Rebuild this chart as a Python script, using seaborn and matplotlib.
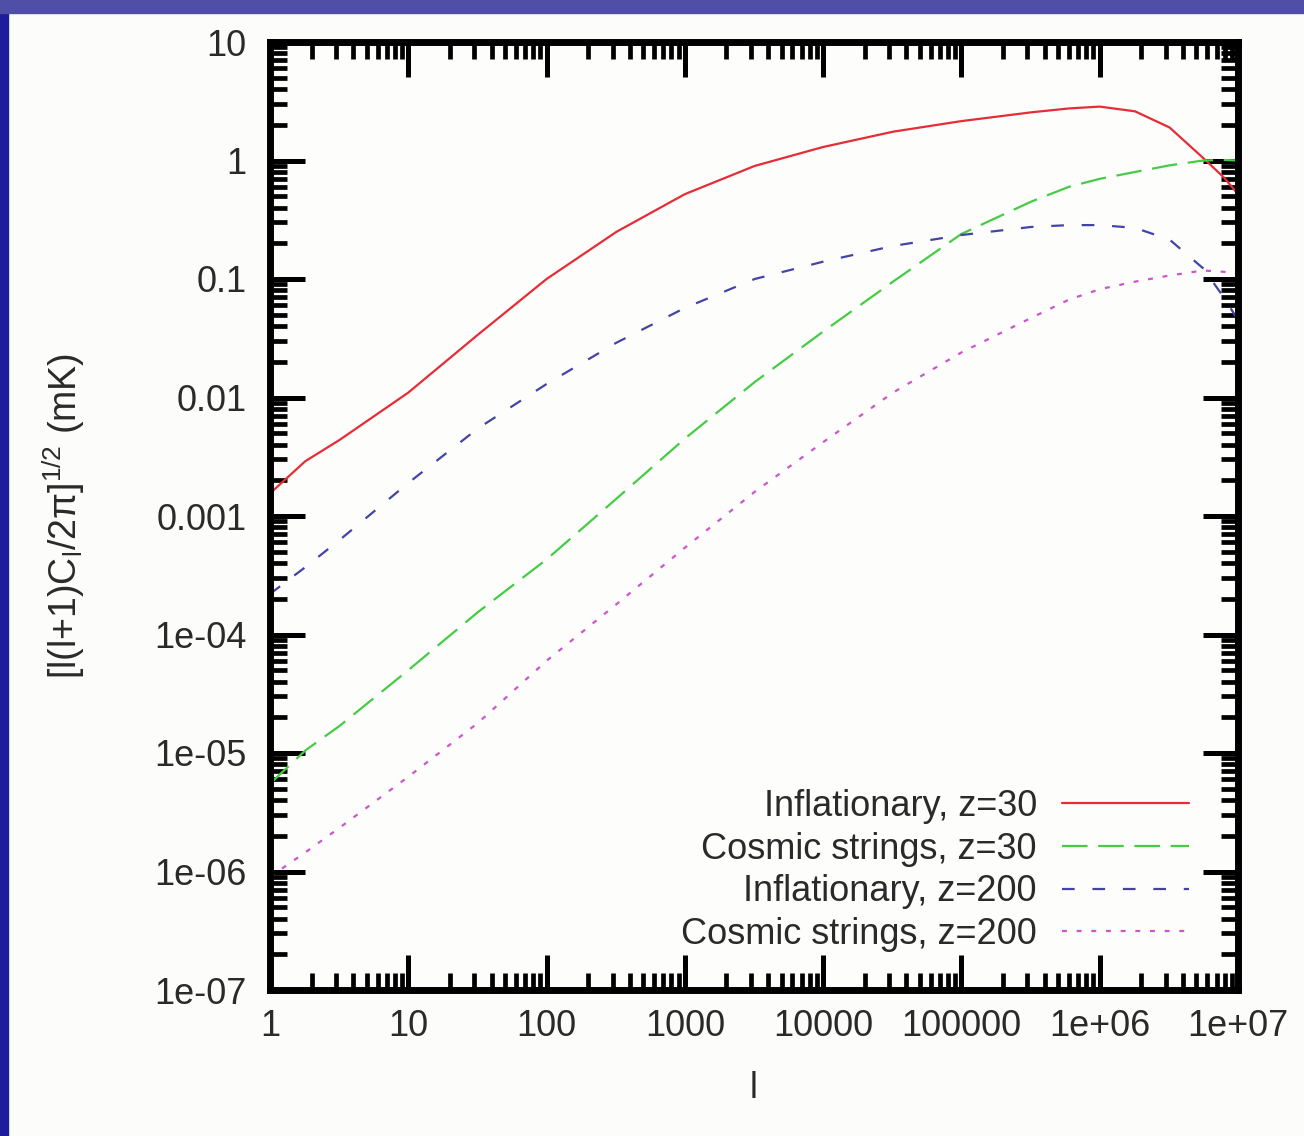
import numpy as np
import pandas as pd
import matplotlib
matplotlib.use("Agg")
import matplotlib.pyplot as plt
from matplotlib.patches import Rectangle
from matplotlib.ticker import LogLocator, NullFormatter
import seaborn as sns

# multipole l (shared grid for all four curves)
ell = [1, 1.8, 3.2, 10, 32, 100, 320, 1000, 3200, 1e4, 3.2e4, 1e5, 3.2e5,
       6e5, 1e6, 1.8e6, 3.2e6, 5.6e6, 7.9e6, 1e7]

# [l(l+1)C_l/2pi]^(1/2) in mK
infl_z30 = [1.55e-3, 2.9e-3, 4.4e-3, 0.011, 0.034, 0.10, 0.25, 0.52, 0.90, 1.3,
            1.75, 2.15, 2.55, 2.75, 2.85, 2.6, 1.9, 1.05, 0.72, 0.52]
strings_z30 = [5.5e-6, 1.05e-5, 1.7e-5, 5e-5, 1.55e-4, 4.3e-4, 1.4e-3, 4.5e-3,
               0.0135, 0.036, 0.095, 0.24, 0.45, 0.60, 0.70, 0.80, 0.91, 1.0, 1.01, 1.0]
infl_z200 = [2.2e-4, 3.7e-4, 6.3e-4, 1.9e-3, 5.5e-3, 0.013, 0.029, 0.057, 0.10,
             0.14, 0.19, 0.235, 0.275, 0.285, 0.285, 0.27, 0.215, 0.123, 0.07, 0.045]
strings_z200 = [9e-7, 1.45e-6, 2.35e-6, 6.3e-6, 1.8e-5, 6e-5, 1.8e-4, 5.4e-4,
                1.6e-3, 4.2e-3, 0.011, 0.024, 0.047, 0.067, 0.082, 0.095, 0.107,
                0.118, 0.115, 0.11]

labels = ["Inflationary, z=30", "Cosmic strings, z=30",
          "Inflationary, z=200", "Cosmic strings, z=200"]

xticks = [1, 10, 100, 1000, 1e4, 1e5, 1e6, 1e7]
xticklabels = ["1", "10", "100", "1000", "10000", "100000", "1e+06", "1e+07"]
yticks = [1e-7, 1e-6, 1e-5, 1e-4, 1e-3, 1e-2, 1e-1, 1, 10]
yticklabels = ["1e-07", "1e-06", "1e-05", "1e-04", "0.001", "0.01", "0.1", "1", "10"]

sns.set_style("white")
plt.rcParams["font.family"] = ["Liberation Sans", "DejaVu Sans"]
plt.rcParams["mathtext.fontset"] = "custom"
plt.rcParams["mathtext.rm"] = "Liberation Sans"
plt.rcParams["mathtext.it"] = "Liberation Sans"

fig = plt.figure(figsize=(13.04, 11.36), dpi=100)
fig.patch.set_facecolor("#fcfcfa")

# slide frame (blue strips at left and top)
fig.patches.append(Rectangle((0, 0), 8 / 1304, 1, transform=fig.transFigure,
                             color="#1c1c9c", zorder=0))
fig.patches.append(Rectangle((0, 1 - 13 / 1136), 1, 13 / 1136, transform=fig.transFigure,
                             color="#4f4fa8", zorder=0))

ax = fig.add_axes([270 / 1304, 146 / 1136, 968 / 1304, 948 / 1136])
ax.set_facecolor("#fdfdfb")

df = pd.DataFrame({"l": ell, "a": infl_z30, "b": strings_z30,
                   "c": infl_z200, "d": strings_z200})

styles = [
    ("a", "#e62c36", "-"),
    ("b", "#44cc44", (0, (11.5, 4.8))),
    ("c", "#4444a8", (0, (5.7, 8.0))),
    ("d", "#cc55cc", (0, (2.2, 4.4))),
]
for (col, color, ls), lab in zip(styles, labels):
    sns.lineplot(data=df, x="l", y=col, ax=ax, color=color, linestyle=ls,
                 linewidth=1.6, label=lab)

ax.set_xscale("log")
ax.set_yscale("log")
ax.set_xlim(1, 1e7)
ax.set_ylim(1e-7, 10)

ax.set_xticks(xticks, xticklabels)
ax.set_yticks(yticks, yticklabels)
ax.xaxis.set_minor_locator(LogLocator(base=10, subs=np.arange(2, 10), numticks=100))
ax.yaxis.set_minor_locator(LogLocator(base=10, subs=np.arange(2, 10), numticks=100))
ax.xaxis.set_minor_formatter(NullFormatter())
ax.yaxis.set_minor_formatter(NullFormatter())

ax.tick_params(which="both", direction="in", top=True, right=True, bottom=True,
               left=True, colors="black")
ax.tick_params(which="major", length=25, width=3.6, labelsize=26, pad=14,
               labelcolor="#2a2a2a")
ax.tick_params(axis="y", which="major", pad=17)
ax.tick_params(which="minor", length=12, width=3.4)

for sp in ax.spines.values():
    sp.set_visible(True)
    sp.set_linewidth(5)
    sp.set_color("black")

ax.set_xlabel("l", fontsize=26, color="#2a2a2a", labelpad=19)
ax.set_ylabel(r"[l(l+1)C$_l$/2$\pi$]$^{1/2}$ (mK)", fontsize=27, color="#2a2a2a",
              labelpad=48)

leg = ax.legend(loc="lower right", bbox_to_anchor=(0.975, 0.0137), frameon=False,
                markerfirst=False, fontsize=26, handlelength=3.5,
                handletextpad=0.7, labelspacing=0.21, borderpad=0.2)
for t in leg.get_texts():
    t.set_color("#2a2a2a")

fig.savefig("out.png", dpi=100, facecolor=fig.get_facecolor())
